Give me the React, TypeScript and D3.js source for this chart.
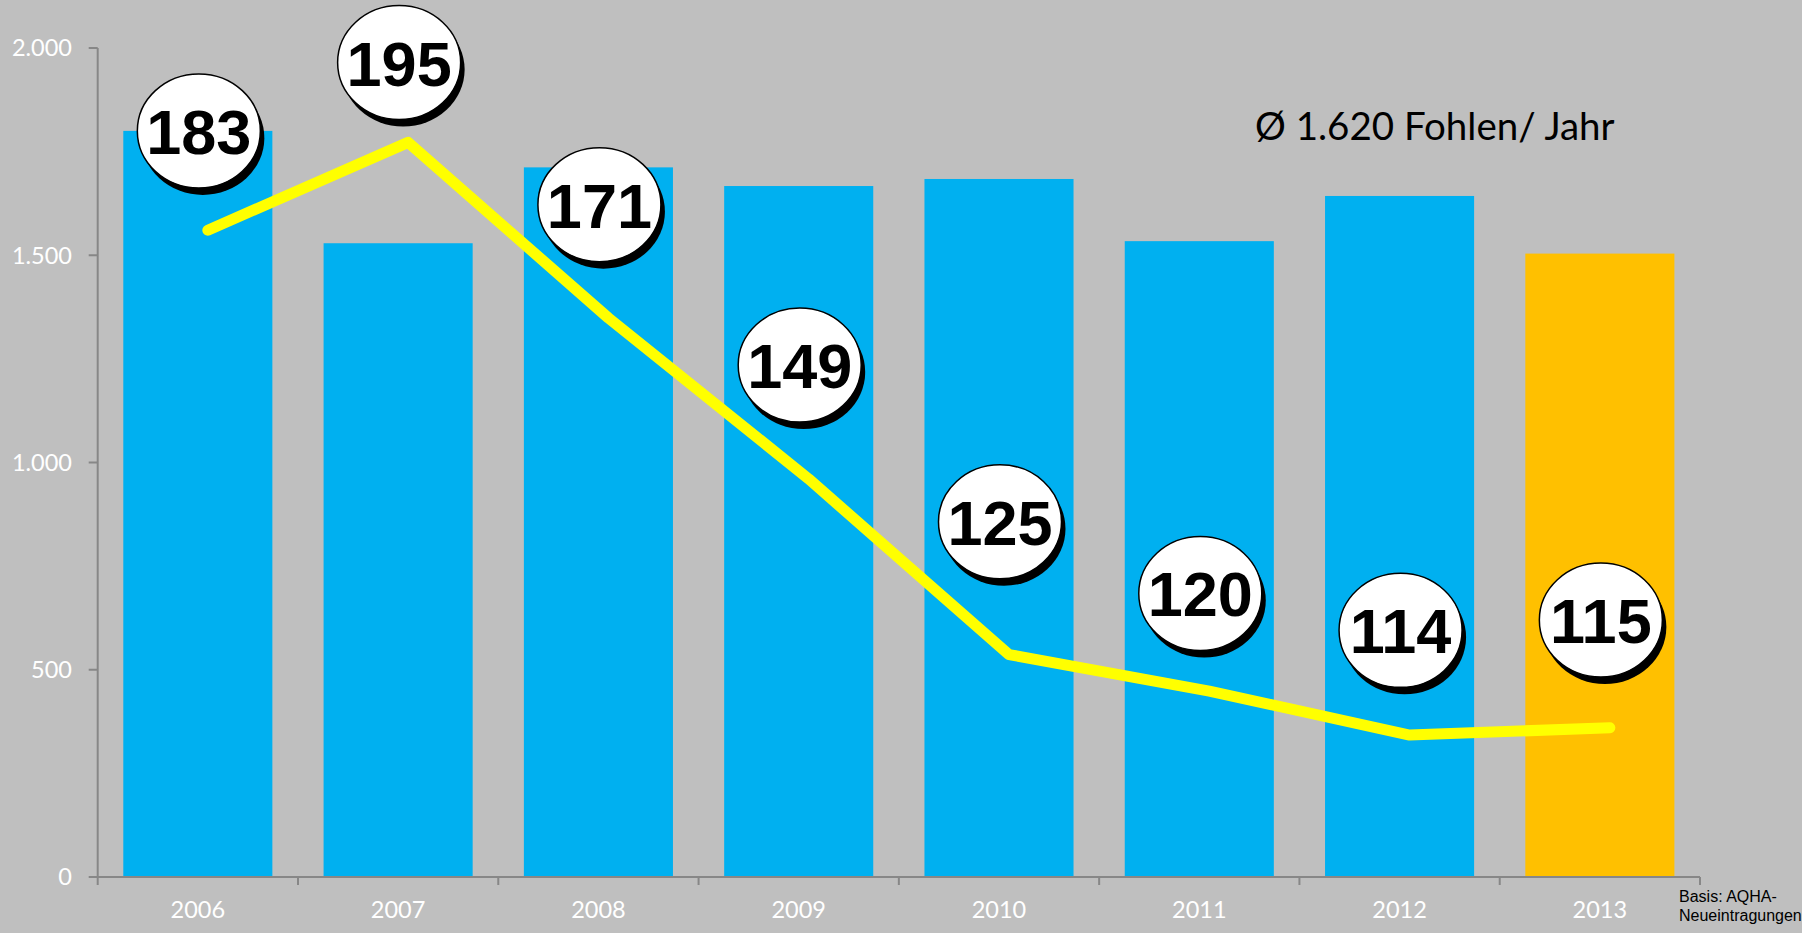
import React from "react";
import * as d3 from "d3";

const years = ["2006", "2007", "2008", "2009", "2010", "2011", "2012", "2013"];
const barValues = [1800, 1529, 1712, 1667, 1684, 1534, 1643, 1504];
const barColors = ["#00B0F0", "#00B0F0", "#00B0F0", "#00B0F0", "#00B0F0", "#00B0F0", "#00B0F0", "#FFC000"];
const lineValues = [183, 195, 171, 149, 125, 120, 114, 115];
// bubble anchor heights, expressed in primary-axis units
const labelLevels = [1800, 1965, 1622, 1235, 857, 684, 595, 620];
const yTicks = [0, 500, 1000, 1500, 2000];
const yDomain = [0, 2000];
const lineDomain = [94.6, 207.9];
const note = "Ø 1.620 Fohlen/ Jahr";
const sourceLines = ["Basis: AQHA-", "Neueintragungen"];

const W = 1802;
const H = 933;
const m = { left: 97.7, right: 102, top: 48, bottom: 56 };

const fmt = d3.formatLocale({ decimal: ",", thousands: ".", grouping: [3], currency: ["", "€"] }).format(",d");

export default function App() {
  const x = d3.scaleBand<string>().domain(years).range([m.left, W - m.right]).paddingInner(0.2557).paddingOuter(0.1278);
  const xc = d3.scaleBand<string>().domain(years).range([m.left, W - m.right]);
  const y = d3.scaleLinear().domain(yDomain).range([H - m.bottom, m.top]);
  const y2 = d3.scaleLinear().domain(lineDomain).range([H - m.bottom, m.top]);
  const lineShift = 10;
  const cx = (d: string) => (xc(d) as number) + xc.bandwidth() / 2;
  const line = d3
    .line<number>()
    .x((_, i) => cx(years[i]) + lineShift)
    .y((v) => y2(v));
  const axisColor = "#878787";
  const base = y(0);
  const fontAxis = "Lato, 'Open Sans', sans-serif";

  return (
    <div style={{ position: "fixed", left: 0, top: 0, width: W, height: H, background: "#BFBFBF" }}>
      <svg width={W} height={H} style={{ display: "block" }}>
        <rect x={0} y={0} width={W} height={H} fill="#BFBFBF" />
        {years.map((yr, i) => (
          <rect
            key={yr}
            x={x(yr)}
            y={y(barValues[i])}
            width={x.bandwidth()}
            height={base - y(barValues[i])}
            fill={barColors[i]}
          />
        ))}
        {/* y axis */}
        <line x1={m.left} x2={m.left} y1={y(yDomain[1])} y2={base} stroke={axisColor} strokeWidth={2} />
        {yTicks.map((t) => (
          <g key={t}>
            <line x1={m.left - 9} x2={m.left} y1={y(t)} y2={y(t)} stroke={axisColor} strokeWidth={2} />
            <text
              x={72}
              y={y(t)}
              dy="0.36em"
              textAnchor="end"
              fill="#FFFFFF"
              fontFamily={fontAxis}
              fontSize={23.5}
            >
              {fmt(t)}
            </text>
          </g>
        ))}
        {/* x axis */}
        <line x1={m.left} x2={W - m.right} y1={base} y2={base} stroke={axisColor} strokeWidth={2} />
        {[...years.map((yr) => xc(yr) as number), W - m.right].map((px, i) => (
          <line key={i} x1={px} x2={px} y1={base} y2={base + 8} stroke={axisColor} strokeWidth={2} />
        ))}
        {years.map((yr) => (
          <text key={yr} x={cx(yr)} y={918} textAnchor="middle" fill="#FFFFFF" fontFamily={fontAxis} fontSize={23.5}>
            {yr}
          </text>
        ))}
        {/* line */}
        <path
          d={line(lineValues) || ""}
          fill="none"
          stroke="#FFFF00"
          strokeWidth={11}
          strokeLinecap="round"
          strokeLinejoin="round"
        />
        {/* bubbles */}
        {years.map((yr, i) => {
          const bx = cx(yr) + 1;
          const by = y(labelLevels[i]);
          return (
            <g key={yr}>
              <ellipse cx={bx + 4} cy={by + 7} rx={61.5} ry={57} fill="#000000" />
              <ellipse cx={bx} cy={by} rx={61.5} ry={57} fill="#FFFFFF" stroke="#000000" strokeWidth={1.5} />
              <text
                x={bx}
                y={by + 23}
                textAnchor="middle"
                fontFamily="'Liberation Sans', Arial, sans-serif"
                fontWeight="bold"
                fontSize={63}
                fill="#000000"
              >
                {lineValues[i]}
              </text>
            </g>
          );
        })}
        <text x={1255} y={140} fontFamily={fontAxis} fontSize={38.5} fill="#000000">
          {note}
        </text>
        {sourceLines.map((s, i) => (
          <text
            key={s}
            x={1679}
            y={902 + i * 18.5}
            fontFamily="'Liberation Sans', Arial, sans-serif"
            fontSize={16}
            fill="#000000"
          >
            {s}
          </text>
        ))}
      </svg>
    </div>
  );
}
